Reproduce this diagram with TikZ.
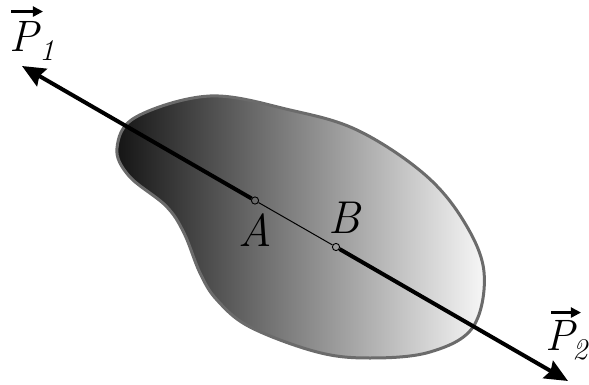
\documentclass[tikz,border=0pt]{standalone}
\usetikzlibrary{arrows.meta}
\tikzset{
  corps/.style={draw=black!58,line width=1.5pt,left color=black!92,right color=black!3},
  force/.style={line width=2pt,-{Stealth[length=11.5pt,width=10pt,inset=1.5pt]}},
  vec/.style={line width=1.1pt,-{Stealth[length=5pt,width=5pt,inset=0pt]}},
  pt/.style={circle,draw,inner sep=0pt,minimum size=3.6pt,line width=0.45pt},
  lbl/.style={font=\fontsize{23}{26}\selectfont\itshape,inner sep=0pt},
  vlbl/.style={font=\fontsize{22}{26}\selectfont\itshape,inner sep=0pt,anchor=base west},
  sub/.style={font=\fontsize{15}{17}\selectfont\itshape,inner sep=0pt,anchor=base west},
}
\begin{document}
\begin{tikzpicture}[x=0.5pt,y=-0.5pt]
  \useasboundingbox (0,0) rectangle (589,385);
  % corps
  \draw[corps] plot[smooth cycle,tension=0.6] coordinates {
    (117,148) (136,117) (210,96) (290,110) (357,130) (423,173) (463,220)
    (484,272) (473,327) (430,352) (370,358) (317,352) (250,327) (217,300)
    (200,273) (184,233) (166,206) (129,176)};
  \node[pt] (A) at (255,200.5) {};
  \node[pt] (B) at (336,247) {};
  \coordinate (e1) at (22,66);
  \coordinate (e2) at (568,381);
  \draw[force] (A) -- (e1);
  \draw[force] (B) -- (e2);
  \draw[line width=0.5pt] (A) -- (B);
  \node[lbl] (lA) at (255,230) {A};
  \node[lbl] (lB) at (344,218) {B};
  % forces
  \node[vlbl] (P1) at (9,52) {P};
  \node[sub] (s1) at (39,61) {1};
  \draw[vec] ([yshift=5pt,xshift=1pt]P1.north west) -- ([yshift=5pt,xshift=2pt]P1.north east);
  \node[vlbl] (P2) at (545,350) {P};
  \node[sub] (s2) at (572,359) {2};
  \draw[vec] ([yshift=3.5pt,xshift=3pt]P2.north west) -- ([yshift=3.5pt,xshift=3pt]P2.north east);
\end{tikzpicture}
\end{document}
